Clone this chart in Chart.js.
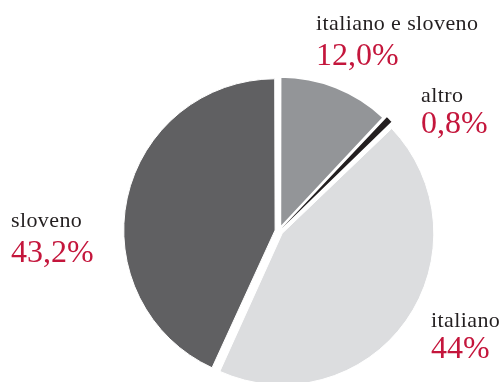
<!DOCTYPE html>
<html>
<head>
<meta charset="utf-8">
<script src="https://cdn.jsdelivr.net/npm/chart.js@4"></script>
<style>
    html, body { margin: 0; padding: 0; background: #fff; }
    #wrap { width: 502px; height: 382px; position: relative; }
</style>
</head>
<body>
<div id="wrap"><canvas id="langChart" width="502" height="382"></canvas></div>
<script>
const categories = ['italiano e sloveno', 'altro', 'italiano', 'sloveno'];
const shares = [12.0, 0.8, 44, 43.2];
const decimals = [1, 1, 0, 1];
const sliceColors = ['#939598', '#231f20', '#dcdddf', '#606062'];

// where each caption sits (left x, baseline of name, baseline of percentage)
const captionPos = [
    { x: 316, y1: 30, y2: 65 },
    { x: 421, y1: 102, y2: 133 },
    { x: 431, y1: 327, y2: 358 },
    { x: 11, y1: 227, y2: 262 }
];

function fmtShare(v, d) {
    return v.toLocaleString('it-IT', { minimumFractionDigits: d, maximumFractionDigits: d }) + '%';
}

const captions = {
    id: 'captions',
    afterDraw(chart) {
        const ctx = chart.ctx;
        ctx.save();
        ctx.textAlign = 'left';
        ctx.textBaseline = 'alphabetic';
        categories.forEach((name, i) => {
            const p = captionPos[i];
            ctx.fillStyle = '#231f20';
            ctx.font = '22px "Liberation Serif", serif';
            ctx.letterSpacing = '0.4px';
            ctx.fillText(name, p.x, p.y1);
            ctx.fillStyle = '#c4163c';
            ctx.font = '32px "Liberation Serif", serif';
            ctx.letterSpacing = '0px';
            ctx.fillText(fmtShare(shares[i], decimals[i]), p.x, p.y2);
        });
        ctx.restore();
    }
};

const langChart = new Chart(document.getElementById('langChart').getContext('2d'), {
    type: 'pie',
    data: {
        labels: categories,
        datasets: [{
            data: shares,
            backgroundColor: sliceColors,
            borderColor: '#ffffff',
            // the thin wedge gets no border so it keeps its full width
            borderWidth: [1.5, 0, 1, 1],
            offset: 16,
            radius: 149
        }]
    },
    options: {
        responsive: false,
        animation: false,
        layout: { padding: { left: 112, right: 56, top: 82, bottom: 2 } },
        plugins: {
            legend: { display: false },
            tooltip: { enabled: false }
        }
    },
    plugins: [captions]
});
</script>
</body>
</html>
